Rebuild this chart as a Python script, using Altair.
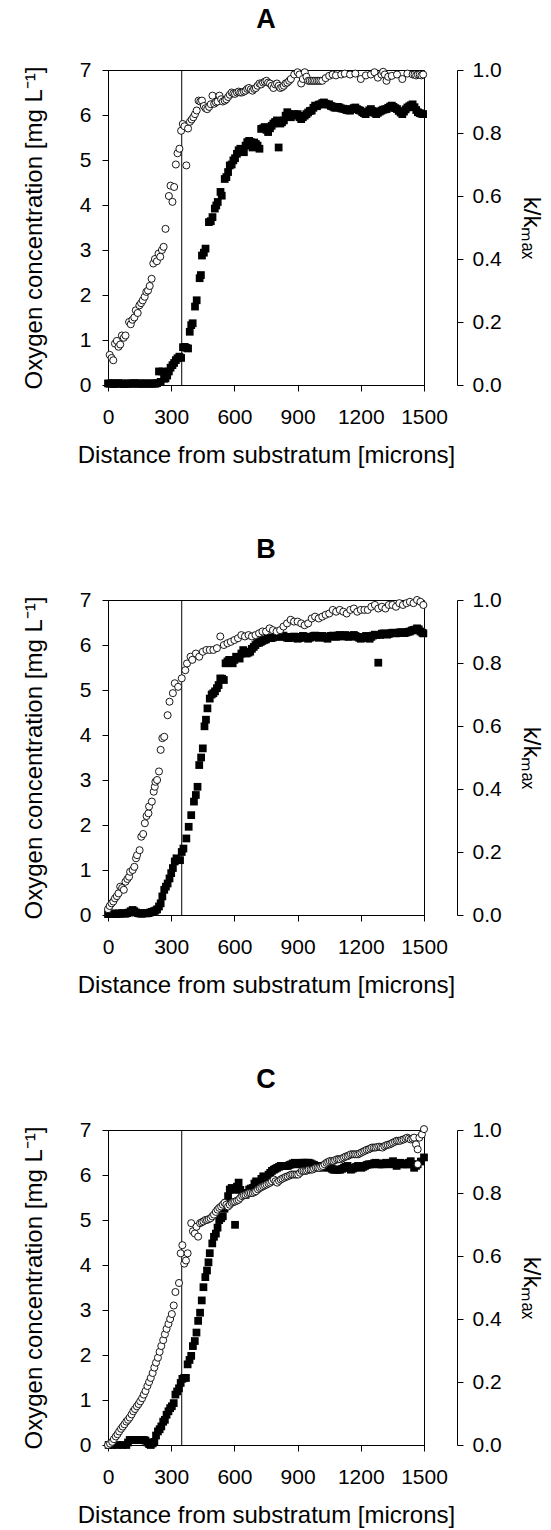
import altair as alt
import pandas as pd

FONT = "Liberation Sans"
X_TICKS = [0, 300, 600, 900, 1200, 1500]
O2_TICKS = [0, 1, 2, 3, 4, 5, 6, 7]
K_TICKS = [0.0, 0.2, 0.4, 0.6, 0.8, 1.0]
BOUNDARY = [350]
PANELS = ["A", "B", "C"]
X_TITLE = "Distance from substratum [microns]"
O2_TITLE = "Oxygen concentration [mg L⁻¹]"
K_TITLE = "k/kₘₐₓ"

# ---------- Panel A ----------
A_O2_X = [8, 17, 25, 33, 42, 50, 58, 66, 75, 83, 100, 108, 116, 125, 132, 141, 149, 157, 165, 174, 182, 190, 198, 207, 215, 223, 232, 240, 248, 256, 264, 273, 289, 297, 306, 314, 322, 330, 339, 347, 355, 363, 372, 380, 389, 397, 405, 413, 421, 430, 438, 446, 455, 463, 471, 480, 488, 496, 504, 512, 520, 529, 537, 545, 554, 562, 570, 578, 587, 595, 603, 612, 620, 628, 636, 645, 653, 661, 669, 678, 686, 694, 702, 710, 719, 727, 736, 744, 752, 760, 769, 777, 785, 793, 802, 810, 818, 827, 835, 843, 851, 860, 868, 884, 900, 909, 917, 925, 934, 942, 950, 958, 967, 975, 983, 992, 1000, 1008, 1017, 1033, 1050, 1066, 1082, 1107, 1124, 1149, 1174, 1200, 1224, 1248, 1265, 1281, 1298, 1306, 1314, 1322, 1330, 1347, 1372, 1397, 1421, 1446, 1455, 1463, 1471, 1480, 1488, 1496]
A_O2_Y = [0.67, 0.6, 0.55, 0.92, 0.98, 0.85, 0.9, 1.1, 1.05, 1.1, 1.4, 1.35, 1.45, 1.5, 1.66, 1.6, 1.77, 1.82, 1.88, 1.96, 2.07, 2.1, 2.2, 2.36, 2.7, 2.8, 2.75, 2.92, 2.85, 3.0, 3.07, 3.47, 4.2, 4.43, 4.07, 4.4, 4.9, 5.15, 5.25, 5.65, 5.8, 5.75, 4.88, 5.7, 5.85, 5.9, 5.95, 6.02, 6.1, 6.32, 6.3, 6.32, 6.2, 6.15, 6.13, 6.18, 6.24, 6.43, 6.25, 6.28, 6.3, 6.43, 6.35, 6.3, 6.32, 6.35, 6.4, 6.45, 6.5, 6.48, 6.47, 6.5, 6.52, 6.5, 6.5, 6.52, 6.54, 6.58, 6.6, 6.57, 6.54, 6.58, 6.6, 6.65, 6.7, 6.68, 6.72, 6.74, 6.76, 6.72, 6.7, 6.65, 6.6, 6.68, 6.7, 6.65, 6.6, 6.62, 6.65, 6.7, 6.72, 6.76, 6.8, 6.9, 6.95, 6.9, 6.7, 6.8, 6.95, 6.85, 6.76, 6.76, 6.76, 6.76, 6.76, 6.76, 6.76, 6.76, 6.76, 6.82, 6.87, 6.9, 6.88, 6.9, 6.92, 6.9, 6.92, 6.8, 6.88, 6.9, 6.95, 6.83, 6.9, 6.96, 6.9, 6.76, 6.85, 6.87, 6.9, 6.8, 6.92, 6.9, 6.9, 6.88, 6.9, 6.9, 6.88, 6.9]
A_K_X = [0, 8, 17, 25, 33, 42, 50, 58, 67, 75, 83, 92, 100, 108, 117, 125, 133, 142, 150, 158, 167, 175, 183, 192, 200, 208, 217, 225, 233, 242, 250, 258, 266, 273, 281, 289, 297, 306, 314, 322, 330, 339, 347, 356, 364, 372, 380, 388, 395, 402, 413, 421, 435, 441, 446, 455, 463, 479, 488, 496, 507, 514, 521, 534, 540, 554, 562, 570, 578, 587, 595, 603, 612, 620, 628, 637, 645, 653, 661, 670, 678, 686, 694, 702, 710, 719, 727, 736, 744, 752, 760, 769, 777, 785, 793, 802, 810, 818, 826, 835, 843, 851, 860, 868, 876, 884, 892, 900, 909, 917, 925, 934, 942, 950, 958, 967, 975, 983, 992, 1000, 1008, 1017, 1025, 1033, 1042, 1050, 1058, 1066, 1074, 1082, 1091, 1099, 1107, 1116, 1124, 1132, 1141, 1149, 1157, 1166, 1174, 1182, 1190, 1198, 1207, 1215, 1223, 1231, 1240, 1248, 1256, 1265, 1273, 1281, 1290, 1298, 1306, 1314, 1322, 1330, 1339, 1347, 1355, 1364, 1372, 1380, 1389, 1397, 1405, 1413, 1421, 1430, 1438, 1446, 1455, 1463, 1471, 1480, 1488, 1496]
A_K_Y = [0.005, 0.004, 0.006, 0.003, 0.005, 0.004, 0.006, 0.004, 0.005, 0.003, 0.004, 0.005, 0.004, 0.005, 0.004, 0.006, 0.005, 0.004, 0.005, 0.004, 0.005, 0.004, 0.005, 0.004, 0.005, 0.004, 0.005, 0.004, 0.006, 0.043, 0.01, 0.043, 0.02, 0.021, 0.03, 0.043, 0.055, 0.063, 0.07, 0.079, 0.085, 0.09, 0.086, 0.12, 0.121, 0.118, 0.116, 0.169, 0.19, 0.196, 0.249, 0.269, 0.339, 0.349, 0.411, 0.42, 0.433, 0.517, 0.52, 0.533, 0.56, 0.57, 0.581, 0.613, 0.601, 0.654, 0.66, 0.676, 0.697, 0.7, 0.713, 0.72, 0.734, 0.745, 0.75, 0.745, 0.739, 0.76, 0.771, 0.775, 0.771, 0.754, 0.77, 0.765, 0.76, 0.75, 0.813, 0.815, 0.819, 0.81, 0.803, 0.815, 0.823, 0.83, 0.835, 0.84, 0.754, 0.83, 0.834, 0.84, 0.855, 0.866, 0.86, 0.85, 0.855, 0.86, 0.857, 0.86, 0.85, 0.844, 0.85, 0.855, 0.86, 0.865, 0.87, 0.871, 0.88, 0.887, 0.885, 0.89, 0.891, 0.895, 0.897, 0.893, 0.89, 0.891, 0.886, 0.884, 0.881, 0.88, 0.883, 0.881, 0.878, 0.877, 0.876, 0.873, 0.872, 0.871, 0.876, 0.879, 0.881, 0.876, 0.873, 0.871, 0.866, 0.863, 0.86, 0.866, 0.872, 0.876, 0.87, 0.864, 0.86, 0.864, 0.868, 0.871, 0.874, 0.875, 0.876, 0.88, 0.884, 0.887, 0.883, 0.879, 0.876, 0.87, 0.865, 0.86, 0.868, 0.875, 0.881, 0.885, 0.888, 0.891, 0.882, 0.873, 0.866, 0.863, 0.861, 0.86]

# ---------- Panel B ----------
B_O2_X = [0, 8, 17, 25, 33, 42, 50, 58, 67, 75, 83, 92, 100, 105, 117, 125, 133, 138, 150, 158, 167, 175, 183, 192, 195, 208, 217, 222, 225, 233, 242, 250, 258, 267, 283, 292, 308, 317, 333, 350, 367, 375, 392, 400, 417, 433, 450, 467, 483, 500, 517, 533, 550, 567, 583, 600, 617, 633, 650, 667, 683, 700, 717, 733, 750, 767, 783, 800, 817, 833, 850, 867, 883, 900, 917, 933, 950, 967, 983, 1000, 1017, 1033, 1050, 1067, 1083, 1100, 1117, 1133, 1150, 1167, 1183, 1200, 1217, 1233, 1250, 1267, 1283, 1300, 1317, 1333, 1350, 1367, 1383, 1400, 1417, 1433, 1450, 1467, 1483, 1497]
B_O2_Y = [0.13, 0.2, 0.26, 0.3, 0.37, 0.42, 0.48, 0.63, 0.6, 0.56, 0.74, 0.8, 0.85, 0.96, 1.0, 1.07, 1.26, 1.33, 1.44, 1.74, 1.8, 2.04, 2.2, 2.26, 2.41, 2.52, 2.74, 2.85, 2.96, 3.0, 3.19, 3.67, 3.93, 3.96, 4.44, 4.74, 4.93, 5.15, 5.07, 5.26, 5.44, 5.59, 5.74, 5.67, 5.81, 5.74, 5.85, 5.89, 5.89, 5.89, 5.93, 6.19, 6.0, 6.04, 6.07, 6.11, 6.15, 6.22, 6.19, 6.22, 6.19, 6.22, 6.26, 6.3, 6.3, 6.37, 6.33, 6.3, 6.33, 6.41, 6.48, 6.56, 6.52, 6.52, 6.48, 6.44, 6.48, 6.59, 6.63, 6.59, 6.63, 6.67, 6.7, 6.78, 6.74, 6.78, 6.74, 6.7, 6.78, 6.81, 6.74, 6.78, 6.78, 6.78, 6.85, 6.89, 6.81, 6.85, 6.81, 6.89, 6.89, 6.85, 6.93, 6.89, 6.93, 6.96, 6.93, 7.0, 6.96, 6.89]
B_K_X = [0, 8, 17, 25, 33, 42, 50, 58, 67, 75, 83, 92, 100, 108, 117, 125, 133, 142, 150, 158, 167, 175, 183, 192, 200, 208, 217, 225, 233, 242, 250, 258, 267, 275, 283, 292, 300, 308, 317, 325, 342, 350, 358, 372, 383, 395, 408, 417, 425, 433, 442, 450, 458, 465, 472, 483, 492, 500, 508, 517, 525, 533, 542, 550, 558, 567, 575, 583, 592, 600, 608, 617, 625, 633, 642, 650, 658, 667, 675, 683, 692, 700, 708, 717, 725, 733, 742, 750, 758, 767, 775, 783, 792, 800, 808, 817, 825, 833, 842, 850, 858, 867, 875, 883, 892, 900, 908, 917, 925, 933, 942, 950, 958, 967, 975, 983, 992, 1000, 1008, 1017, 1025, 1033, 1042, 1050, 1058, 1067, 1075, 1083, 1092, 1100, 1108, 1117, 1125, 1133, 1142, 1150, 1158, 1167, 1175, 1183, 1192, 1200, 1208, 1217, 1225, 1233, 1242, 1250, 1258, 1267, 1275, 1283, 1292, 1300, 1308, 1317, 1325, 1333, 1342, 1350, 1358, 1367, 1375, 1383, 1392, 1400, 1408, 1417, 1425, 1433, 1442, 1450, 1458, 1467, 1475, 1483, 1492, 1497]
B_K_Y = [0.003, 0.004, 0.003, 0.005, 0.004, 0.003, 0.005, 0.004, 0.006, 0.005, 0.004, 0.006, 0.008, 0.012, 0.016, 0.012, 0.008, 0.006, 0.005, 0.004, 0.005, 0.006, 0.005, 0.006, 0.008, 0.01, 0.012, 0.014, 0.018, 0.027, 0.037, 0.059, 0.08, 0.09, 0.1, 0.116, 0.133, 0.149, 0.17, 0.18, 0.174, 0.2, 0.211, 0.243, 0.28, 0.317, 0.36, 0.381, 0.407, 0.476, 0.5, 0.529, 0.599, 0.62, 0.656, 0.687, 0.7, 0.704, 0.71, 0.72, 0.73, 0.751, 0.75, 0.746, 0.799, 0.805, 0.81, 0.805, 0.799, 0.81, 0.82, 0.818, 0.814, 0.83, 0.841, 0.835, 0.83, 0.833, 0.836, 0.845, 0.851, 0.857, 0.863, 0.864, 0.867, 0.87, 0.873, 0.875, 0.879, 0.88, 0.879, 0.881, 0.885, 0.884, 0.883, 0.886, 0.884, 0.887, 0.883, 0.88, 0.879, 0.883, 0.881, 0.884, 0.88, 0.877, 0.879, 0.883, 0.886, 0.884, 0.88, 0.877, 0.88, 0.883, 0.886, 0.887, 0.884, 0.88, 0.884, 0.886, 0.883, 0.88, 0.877, 0.884, 0.886, 0.887, 0.884, 0.883, 0.887, 0.889, 0.886, 0.884, 0.889, 0.886, 0.883, 0.884, 0.887, 0.889, 0.886, 0.883, 0.88, 0.877, 0.88, 0.883, 0.886, 0.88, 0.877, 0.883, 0.887, 0.89, 0.889, 0.801, 0.889, 0.893, 0.894, 0.893, 0.89, 0.892, 0.895, 0.896, 0.896, 0.894, 0.895, 0.897, 0.898, 0.896, 0.895, 0.897, 0.899, 0.9, 0.903, 0.905, 0.906, 0.91, 0.907, 0.9, 0.896, 0.894]

# ---------- Panel C ----------
C_O2_X = [0, 10, 20, 28, 37, 45, 53, 62, 70, 78, 87, 95, 103, 112, 120, 128, 137, 145, 153, 162, 170, 178, 187, 195, 203, 212, 220, 228, 237, 245, 253, 262, 270, 278, 287, 295, 303, 312, 320, 337, 345, 353, 362, 370, 378, 395, 403, 412, 420, 428, 437, 445, 453, 462, 470, 478, 487, 495, 503, 512, 520, 528, 537, 545, 553, 562, 570, 578, 587, 595, 603, 612, 620, 628, 637, 645, 653, 662, 670, 678, 687, 695, 703, 712, 720, 728, 737, 745, 753, 762, 770, 778, 787, 795, 803, 812, 820, 828, 837, 845, 853, 862, 870, 878, 887, 895, 903, 912, 920, 928, 937, 945, 953, 962, 970, 978, 987, 995, 1003, 1012, 1020, 1028, 1037, 1045, 1053, 1062, 1070, 1078, 1087, 1095, 1103, 1112, 1120, 1128, 1137, 1145, 1153, 1162, 1170, 1178, 1187, 1195, 1203, 1212, 1220, 1228, 1237, 1245, 1253, 1262, 1270, 1278, 1287, 1295, 1303, 1312, 1320, 1328, 1337, 1345, 1353, 1362, 1370, 1378, 1387, 1395, 1403, 1412, 1420, 1428, 1437, 1445, 1453, 1462, 1470, 1470, 1478, 1490, 1500]
C_O2_Y = [0.0, 0.03, 0.07, 0.13, 0.19, 0.24, 0.3, 0.36, 0.41, 0.46, 0.52, 0.56, 0.61, 0.68, 0.75, 0.8, 0.86, 0.91, 0.97, 1.04, 1.12, 1.2, 1.31, 1.4, 1.49, 1.6, 1.72, 1.83, 1.94, 2.07, 2.2, 2.33, 2.46, 2.58, 2.69, 2.8, 2.91, 3.1, 3.4, 3.6, 4.26, 4.44, 4.03, 4.1, 4.26, 4.93, 4.75, 4.7, 4.85, 4.63, 4.93, 4.95, 4.97, 5.0, 5.0, 5.02, 5.04, 5.08, 5.12, 5.18, 5.23, 5.27, 5.3, 5.34, 5.38, 5.34, 5.3, 5.34, 5.38, 5.4, 5.41, 5.43, 5.45, 5.49, 5.53, 5.55, 5.56, 5.58, 5.6, 5.6, 5.6, 5.62, 5.64, 5.68, 5.71, 5.73, 5.75, 5.77, 5.79, 5.81, 5.83, 5.86, 5.9, 5.86, 5.83, 5.87, 5.9, 5.92, 5.94, 5.96, 5.97, 5.99, 6.01, 6.01, 6.01, 6.01, 6.01, 6.05, 6.09, 6.09, 6.09, 6.1, 6.12, 6.12, 6.12, 6.14, 6.16, 6.16, 6.16, 6.18, 6.2, 6.24, 6.27, 6.29, 6.31, 6.31, 6.31, 6.33, 6.35, 6.35, 6.35, 6.37, 6.39, 6.41, 6.42, 6.44, 6.46, 6.46, 6.46, 6.46, 6.46, 6.48, 6.5, 6.52, 6.54, 6.56, 6.57, 6.59, 6.61, 6.61, 6.61, 6.62, 6.63, 6.62, 6.61, 6.64, 6.66, 6.67, 6.68, 6.7, 6.72, 6.74, 6.76, 6.76, 6.76, 6.78, 6.79, 6.81, 6.83, 6.81, 6.79, 6.81, 6.83, 6.68, 6.57, 6.24, 6.83, 6.9, 7.02]
C_K_X = [3, 20, 45, 70, 87, 95, 103, 112, 120, 128, 137, 145, 153, 162, 170, 178, 187, 195, 203, 212, 220, 228, 237, 245, 253, 262, 270, 278, 287, 295, 303, 312, 320, 328, 337, 345, 353, 362, 370, 378, 387, 395, 403, 412, 420, 428, 437, 445, 453, 462, 470, 477, 483, 495, 503, 512, 520, 528, 537, 545, 553, 562, 570, 578, 587, 595, 603, 612, 620, 628, 637, 645, 653, 662, 670, 678, 687, 695, 703, 712, 720, 728, 737, 745, 753, 762, 770, 778, 787, 795, 803, 812, 820, 828, 837, 845, 853, 862, 870, 878, 887, 895, 903, 912, 920, 928, 937, 945, 953, 962, 970, 978, 987, 995, 1003, 1012, 1020, 1028, 1037, 1045, 1053, 1062, 1070, 1078, 1087, 1095, 1103, 1112, 1120, 1128, 1137, 1145, 1153, 1162, 1170, 1178, 1187, 1195, 1203, 1212, 1220, 1228, 1237, 1245, 1253, 1262, 1270, 1278, 1287, 1295, 1303, 1312, 1320, 1328, 1337, 1345, 1353, 1362, 1370, 1378, 1387, 1395, 1403, 1412, 1420, 1428, 1437, 1445, 1453, 1462, 1470, 1485, 1500]
C_K_Y = [0.0, 0.0, 0.0, 0.0, 0.0, 0.008, 0.016, 0.016, 0.016, 0.016, 0.016, 0.016, 0.016, 0.016, 0.016, 0.014, 0.008, 0.003, 0.0, 0.005, 0.01, 0.03, 0.043, 0.05, 0.059, 0.074, 0.08, 0.096, 0.107, 0.117, 0.123, 0.133, 0.16, 0.17, 0.18, 0.197, 0.21, 0.213, 0.213, 0.256, 0.27, 0.283, 0.314, 0.33, 0.357, 0.394, 0.42, 0.459, 0.501, 0.533, 0.554, 0.58, 0.609, 0.64, 0.661, 0.671, 0.69, 0.714, 0.72, 0.726, 0.75, 0.769, 0.79, 0.811, 0.816, 0.81, 0.699, 0.82, 0.833, 0.81, 0.8, 0.798, 0.794, 0.8, 0.811, 0.814, 0.816, 0.83, 0.837, 0.835, 0.833, 0.845, 0.853, 0.851, 0.849, 0.858, 0.864, 0.87, 0.874, 0.877, 0.88, 0.883, 0.886, 0.886, 0.886, 0.886, 0.886, 0.889, 0.891, 0.894, 0.896, 0.894, 0.891, 0.894, 0.896, 0.896, 0.896, 0.896, 0.896, 0.894, 0.891, 0.889, 0.886, 0.886, 0.886, 0.883, 0.88, 0.883, 0.886, 0.883, 0.88, 0.877, 0.874, 0.874, 0.874, 0.874, 0.874, 0.877, 0.88, 0.883, 0.886, 0.88, 0.874, 0.877, 0.88, 0.883, 0.886, 0.883, 0.88, 0.883, 0.886, 0.889, 0.891, 0.891, 0.891, 0.894, 0.896, 0.894, 0.891, 0.891, 0.891, 0.894, 0.896, 0.894, 0.891, 0.896, 0.901, 0.894, 0.886, 0.891, 0.896, 0.894, 0.891, 0.891, 0.891, 0.896, 0.901, 0.891, 0.88, 0.886, 0.891, 0.9, 0.913]

SERIES = {
    "A": (A_O2_X, A_O2_Y, A_K_X, A_K_Y),
    "B": (B_O2_X, B_O2_Y, B_K_X, B_K_Y),
    "C": (C_O2_X, C_O2_Y, C_K_X, C_K_Y),
}

W, H = 316, 315
LABEL_FS = 21
TITLE_FS = 24


def panel(name):
    ox, oy, kx, ky = SERIES[name]
    o2 = pd.DataFrame({"x": ox, "o2": oy})
    kk = pd.DataFrame({"x": kx, "k": ky})
    bd = pd.DataFrame({"x": BOUNDARY})

    xscale = alt.Scale(domain=[0, 1500], nice=False, zero=False)
    xenc = alt.X(
        "x:Q", scale=xscale,
        axis=alt.Axis(values=X_TICKS, title=X_TITLE, grid=False, tickSize=6,
                      labelPadding=15, titlePadding=16, format="d",
                      labelOverlap=False, labelFlush=False),
    )
    rule = alt.Chart(bd).mark_rule(color="black", strokeWidth=1).encode(
        x=alt.X("x:Q", scale=xscale)
    )
    squares = alt.Chart(kk).mark_square(size=60, color="black", opacity=1).encode(
        x=xenc,
        y=alt.Y("k:Q", scale=alt.Scale(domain=[0, 1], nice=False, zero=True),
                axis=alt.Axis(orient="right", values=K_TICKS, format=".1f", title=K_TITLE,
                              grid=False, tickSize=6, offset=33, labelPadding=9,
                              titlePadding=17, labelFlush=False, labelOverlap=False)),
    )
    circles = alt.Chart(o2).mark_point(
        shape="circle", size=50, fill="white", fillOpacity=1, stroke="black",
        strokeWidth=0.9, opacity=1,
    ).encode(
        x=xenc,
        y=alt.Y("o2:Q", scale=alt.Scale(domain=[0, 7], nice=False, zero=True),
                axis=alt.Axis(orient="left", values=O2_TICKS, title=O2_TITLE, grid=False,
                              tickSize=6, labelPadding=11, titlePadding=33,
                              labelFlush=False, labelOverlap=False)),
    )
    return alt.layer(rule, squares, circles).resolve_scale(y="independent").properties(
        width=W, height=H,
        title=alt.TitleParams(name, fontSize=27, fontWeight="bold", font=FONT,
                              anchor="middle", frame="group", offset=25),
    )


chart = alt.vconcat(*[panel(p) for p in PANELS], spacing=215, bounds="flush").properties(
    padding={"left": 21, "top": 5, "right": 2, "bottom": 0}
).configure_view(stroke="black", strokeWidth=1).configure_axis(
    labelFont=FONT, titleFont=FONT, labelFontSize=LABEL_FS, titleFontSize=TITLE_FS,
    labelColor="black", titleColor="black", domainColor="black", tickColor="black",
    titleFontWeight="normal", domainWidth=1, tickWidth=1,
).configure_title(font=FONT, color="black")

chart.save("out.html", embed_options={"renderer": "svg", "actions": False})
